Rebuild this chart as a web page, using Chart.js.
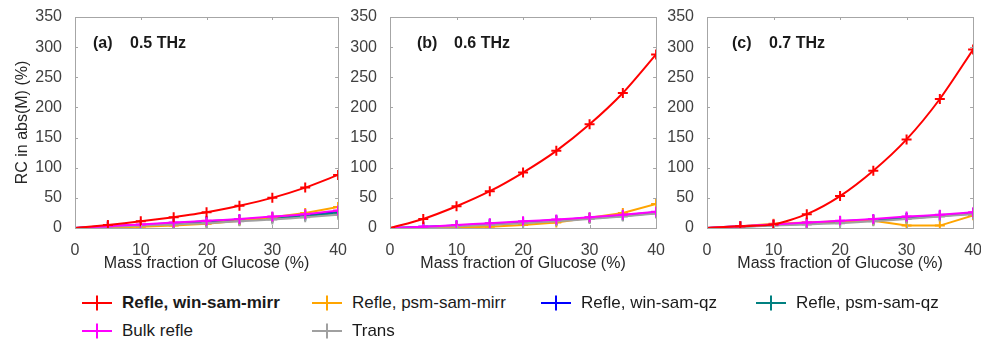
<!DOCTYPE html>
<html>
<head>
<meta charset="utf-8">
<script src="https://cdn.jsdelivr.net/npm/chart.js@4"></script>
<style>
  html, body { margin: 0; padding: 0; background: #fff; }
  body { width: 981px; height: 343px; position: relative; overflow: hidden; }
  canvas { position: absolute; top: 0; }
  .leg { position: absolute; display: flex; align-items: center; font-family: "Liberation Sans", Arial, sans-serif; font-size: 17px; color: #1a1a1a; white-space: nowrap; }
  .leg svg { margin-right: 10px; }
</style>
</head>
<body>
<canvas id="chartA" width="352" height="280" style="left:0px"></canvas>
<canvas id="chartB" width="325" height="280" style="left:345px"></canvas>
<canvas id="chartC" width="325" height="280" style="left:662px"></canvas>
<div id="legend"></div>
<script>
// mass fraction of glucose (%)
const massFraction = [0, 5, 10, 15, 20, 25, 30, 35, 40];

const seriesNames = ["Refle, win-sam-mirr", "Refle, psm-sam-mirr", "Refle, win-sam-qz", "Refle, psm-sam-qz", "Bulk refle", "Trans"];
const seriesColors = ["#ff0000", "#ffa500", "#0000ff", "#008080", "#ff00ff", "#a0a0a0"];
// draw order (lower = on top)
const seriesOrder = [0, 3, 5, 4, 1, 2];

// (a) 0.5 THz
const a_winSamMirr = [0, 5, 11, 18, 26, 37, 50, 67, 88];
const a_psmSamMirr = [0, 1, 2, 4, 7, 12, 18, 25, 35];
const a_winSamQz   = [0, 3, 5, 8, 11, 14, 18, 22, 28];
const a_psmSamQz   = [0, 2, 4, 7, 10, 13, 16, 20, 25];
const a_bulk       = [0, 3, 6, 9, 12, 15, 19, 23, 29];
const a_trans      = [0, 2, 4, 6, 8, 11, 14, 18, 22];

// (b) 0.6 THz
const b_winSamMirr = [0, 15, 36, 61, 92, 128, 172, 224, 288];
const b_psmSamMirr = [0, 0, 1, 2, 5, 9, 17, 25, 40];
const b_winSamQz   = [0, 2, 4, 7, 10, 13, 17, 21, 26];
const b_psmSamQz   = [0, 1, 3, 6, 9, 12, 16, 20, 25];
const b_bulk       = [0, 2, 5, 8, 11, 14, 18, 22, 27];
const b_trans      = [0, 1, 3, 5, 8, 11, 15, 19, 24];

// (c) 0.7 THz
const c_winSamMirr = [0, 3, 6, 23, 53, 95, 147, 214, 296];
const c_psmSamMirr = [0, 3, 7, 9, 11, 12, 4, 4, 21];
const c_winSamQz   = [0, 3, 5, 8, 11, 14, 17, 21, 25];
const c_psmSamQz   = [0, 2, 5, 7, 10, 13, 16, 20, 24];
const c_bulk       = [0, 3, 6, 9, 12, 15, 19, 22, 26];
const c_trans      = [0, 2, 4, 6, 8, 11, 15, 19, 23];

const xTicks = [0, 10, 20, 30, 40];
const yTicks = [0, 50, 100, 150, 200, 250, 300, 350];

const FONT = "'Liberation Sans', Arial, sans-serif";

// box around plot + inward ticks (matlab look)
const boxPlugin = {
    id: 'box',
    afterDraw(chart) {
        const ctx = chart.ctx;
        const ca = chart.chartArea;
        const xs = chart.scales.x, ys = chart.scales.y;
        ctx.save();
        ctx.strokeStyle = '#a6a6a6';
        ctx.lineWidth = 1;
        ctx.strokeRect(Math.round(ca.left) + 0.5, Math.round(ca.top) + 0.5, Math.round(ca.right - ca.left), Math.round(ca.bottom - ca.top));
        ctx.beginPath();
        xTicks.forEach(v => {
            const px = Math.round(xs.getPixelForValue(v)) + 0.5;
            ctx.moveTo(px, ca.bottom); ctx.lineTo(px, ca.bottom - 3);
            ctx.moveTo(px, ca.top); ctx.lineTo(px, ca.top + 3);
        });
        yTicks.forEach(v => {
            const py = Math.round(ys.getPixelForValue(v)) + 0.5;
            ctx.moveTo(ca.left, py); ctx.lineTo(ca.left + 3, py);
            ctx.moveTo(ca.right, py); ctx.lineTo(ca.right - 3, py);
        });
        ctx.stroke();
        ctx.restore();
    }
};

const labelPlugin = {
    id: 'panelLabel',
    afterDraw(chart, args, opts) {
        const ctx = chart.ctx;
        const ca = chart.chartArea;
        ctx.save();
        ctx.font = 'bold 16px ' + FONT;
        ctx.fillStyle = '#1a1a1a';
        ctx.textBaseline = 'middle';
        ctx.fillText(opts.tag, ca.left + opts.dx, ca.top + 27);
        ctx.fillText(opts.freq, ca.left + opts.dx + 37, ca.top + 27);
        ctx.restore();
    }
};

function makePanel(id, seriesList, tag, freq, dx, withTitle) {
    const datasets = seriesList.map((vals, i) => ({
        label: seriesNames[i],
        data: massFraction.map((x, j) => ({ x: x, y: vals[j] })),
        order: seriesOrder[i],
        borderColor: seriesColors[i],
        backgroundColor: seriesColors[i],
        borderWidth: 2,
        pointStyle: 'cross',
        pointRadius: 5,
        pointBorderWidth: 2,
        tension: i === 1 ? 0 : 0.25
    }));
    new Chart(document.getElementById(id).getContext('2d'), {
        type: 'line',
        data: { datasets: datasets },
        options: {
            responsive: false,
            animation: false,
            events: [],
            layout: { padding: { top: 17, right: 12, left: 0, bottom: 0 } },
            plugins: {
                legend: { display: false },
                tooltip: { enabled: false },
                panelLabel: { tag: tag, freq: freq, dx: dx }
            },
            scales: {
                x: {
                    type: 'linear',
                    min: 0,
                    max: 40,
                    grid: { display: false },
                    border: { display: false },
                    ticks: { stepSize: 10, padding: 5, color: '#404040', font: { family: FONT, size: 16 } },
                    title: { display: true, text: 'Mass fraction of Glucose (%)', color: '#262626', font: { family: FONT, size: 16 }, padding: { top: 0, bottom: 7 } },
                    afterFit(s) { s.height = 52; }
                },
                y: {
                    min: 0,
                    max: 350,
                    grid: { display: false },
                    border: { display: false },
                    ticks: { stepSize: 50, padding: 5, color: '#404040', font: { family: FONT, size: 16 } },
                    title: { display: withTitle, text: 'RC in abs(M) (%)', color: '#262626', font: { family: FONT, size: 16 }, padding: { top: 13, bottom: 0 } },
                    afterFit(s) { s.width = withTitle ? 75 : 45; }
                }
            }
        },
        plugins: [boxPlugin, labelPlugin]
    });
}

makePanel('chartA', [a_winSamMirr, a_psmSamMirr, a_winSamQz, a_psmSamQz, a_bulk, a_trans], '(a)', '0.5 THz', 18, true);
makePanel('chartB', [b_winSamMirr, b_psmSamMirr, b_winSamQz, b_psmSamQz, b_bulk, b_trans], '(b)', '0.6 THz', 27, false);
makePanel('chartC', [c_winSamMirr, c_psmSamMirr, c_winSamQz, c_psmSamQz, c_bulk, c_trans], '(c)', '0.7 THz', 25, false);

// legend below the panels
const legendCols = [82, 312, 541, 756];
const legendRows = [303, 331];
const legend = document.getElementById('legend');
seriesNames.forEach((name, i) => {
    const col = i % 4, row = Math.floor(i / 4);
    const div = document.createElement('div');
    div.className = 'leg';
    div.style.left = legendCols[col] + 'px';
    div.style.top = (legendRows[row] - 10) + 'px';
    div.style.height = '20px';
    if (i === 0) div.style.fontWeight = 'bold';
    const c = seriesColors[i];
    div.innerHTML = '<svg width="30" height="16"><line x1="0" y1="8" x2="30" y2="8" stroke="' + c + '" stroke-width="2"/>' +
        '<line x1="15" y1="0.5" x2="15" y2="15.5" stroke="' + c + '" stroke-width="2"/></svg><span>' + name + '</span>';
    legend.appendChild(div);
});
</script>
</body>
</html>
